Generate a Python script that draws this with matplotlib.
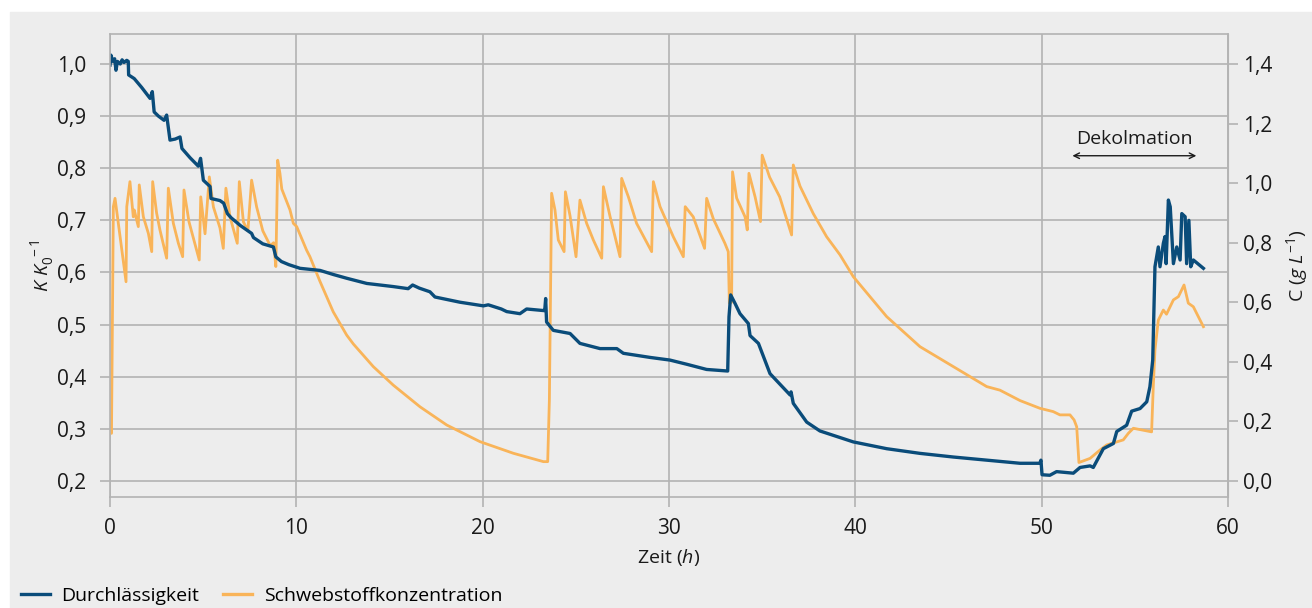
import numpy as np
import matplotlib.pyplot as plt
from matplotlib.patches import Rectangle
from matplotlib.ticker import FuncFormatter
from matplotlib.lines import Line2D

# Durchlässigkeit K/K0 (linke Achse)
t_k = [0.0, 0.05, 0.15, 0.25, 0.32, 0.4, 0.55, 0.65, 0.75, 0.9, 0.98, 1.0, 1.3, 1.7,
       2.15, 2.27, 2.37, 2.6, 2.9, 3.04, 3.22, 3.5, 3.76, 3.86, 4.3, 4.74, 4.86, 5.01,
       5.37, 5.42, 5.9, 6.1, 6.3, 6.5, 7.0, 7.6, 7.7, 8.2, 8.77, 8.9, 9.2, 9.6, 10.2,
       11.27, 12.0, 12.7, 13.78, 15.2, 16.0, 16.24, 16.6, 17.17, 17.44, 18.78, 20.04,
       20.3, 21.0, 21.29, 22.0, 22.36, 23.26, 23.33, 23.38, 23.43, 23.79, 24.69, 25.22,
       26.3, 27.2, 27.55, 29.0, 30.05, 30.95, 32.02, 33.15, 33.22, 33.31, 33.54, 33.81,
       34.26, 34.35, 34.8, 35.42, 36.5, 36.55, 36.67, 37.39, 38.1, 39.89, 41.68, 43.47,
       45.26, 47.05, 48.84, 49.9, 49.96, 50.02, 50.44, 50.8, 51.7, 52.06, 52.6, 52.77,
       53.31, 53.85, 54.03, 54.56, 54.83, 55.28, 55.64, 55.81, 55.96, 56.03, 56.08,
       56.26, 56.35, 56.53, 56.62, 56.68, 56.8, 56.9, 57.07, 57.25, 57.43, 57.52, 57.7,
       57.78, 57.9, 58.0, 58.14, 58.68]
k = [0.998, 1.017, 1.005, 1.01, 0.988, 1.005, 1.0, 1.008, 1.003, 1.007, 1.005, 0.979,
     0.972, 0.955, 0.934, 0.947, 0.908, 0.9, 0.892, 0.902, 0.854, 0.856, 0.86, 0.838,
     0.82, 0.804, 0.819, 0.777, 0.765, 0.742, 0.738, 0.733, 0.713, 0.705, 0.69, 0.675,
     0.667, 0.655, 0.649, 0.630, 0.621, 0.615, 0.608, 0.604, 0.596, 0.589, 0.579, 0.573,
     0.569, 0.576, 0.570, 0.563, 0.553, 0.543, 0.536, 0.538, 0.530, 0.525, 0.521, 0.530,
     0.527, 0.527, 0.550, 0.505, 0.489, 0.483, 0.464, 0.454, 0.454, 0.445, 0.437, 0.432,
     0.424, 0.414, 0.411, 0.515, 0.557, 0.541, 0.521, 0.502, 0.479, 0.464, 0.406, 0.365,
     0.371, 0.349, 0.313, 0.296, 0.275, 0.262, 0.253, 0.246, 0.240, 0.234, 0.234, 0.240,
     0.212, 0.211, 0.218, 0.215, 0.226, 0.229, 0.226, 0.262, 0.272, 0.295, 0.307, 0.334,
     0.339, 0.352, 0.381, 0.432, 0.534, 0.611, 0.649, 0.611, 0.656, 0.669, 0.617, 0.739,
     0.726, 0.617, 0.649, 0.624, 0.713, 0.707, 0.617, 0.700, 0.611, 0.624, 0.608]

# Schwebstoffkonzentration C in g/L (rechte Achse)
t_c = [0.0, 0.08, 0.18, 0.27, 0.54, 0.86, 0.9, 1.07, 1.25, 1.3, 1.52, 1.57, 1.79, 2.06,
       2.24, 2.29, 2.5, 2.68, 3.04, 3.13, 3.4, 3.67, 3.9, 3.97, 4.24, 4.5, 4.79, 4.87,
       5.1, 5.33, 5.55, 5.9, 6.08, 6.22, 6.44, 6.83, 6.94, 7.16, 7.4, 7.6, 7.87, 8.2,
       8.6, 8.78, 8.9, 9.0, 9.12, 9.22, 9.66, 9.84, 10.02, 10.55, 10.73, 11.27, 11.98,
       12.7, 13.06, 14.13, 15.2, 16.64, 18.07, 19.86, 21.65, 23.26, 23.49, 23.58, 23.7,
       23.88, 24.06, 24.37, 24.44, 24.69, 25.01, 25.22, 25.58, 25.94, 26.39, 26.48,
       26.84, 27.37, 27.46, 27.82, 28.26, 29.07, 29.16, 29.52, 30.23, 30.77, 30.87,
       31.3, 31.91, 32.02, 32.38, 33.0, 33.18, 33.24, 33.36, 33.41, 33.63, 34.08, 34.2,
       34.29, 34.62, 34.91, 35.0, 35.4, 35.94, 36.58, 36.67, 37.03, 37.74, 38.46, 39.18,
       39.89, 41.68, 43.47, 45.26, 47.05, 47.76, 48.84, 49.91, 50.62, 50.98, 51.52,
       51.74, 51.88, 52.0, 52.6, 53.13, 53.49, 54.38, 54.65, 54.92, 55.9, 55.99, 56.08,
       56.26, 56.53, 56.7, 57.07, 57.34, 57.64, 57.87, 58.14, 58.68]
c = [0.18, 0.16, 0.921, 0.949, 0.82, 0.669, 0.921, 1.005, 0.887, 0.91, 0.854, 0.994,
     0.887, 0.831, 0.77, 1.005, 0.9, 0.843, 0.748, 0.983, 0.865, 0.798, 0.753, 0.977,
     0.87, 0.81, 0.742, 0.954, 0.83, 1.021, 0.92, 0.85, 0.781, 0.983, 0.887, 0.798,
     1.005, 0.87, 0.84, 1.01, 0.92, 0.84, 0.79, 0.80, 0.72, 1.077, 1.033, 0.98, 0.91,
     0.865, 0.854, 0.775, 0.753, 0.67, 0.568, 0.49, 0.46, 0.384, 0.322, 0.249, 0.188,
     0.132, 0.093, 0.065, 0.065, 0.272, 0.966, 0.91, 0.809, 0.77, 0.971, 0.89, 0.753,
     0.943, 0.865, 0.809, 0.748, 0.988, 0.887, 0.753, 1.016, 0.954, 0.865, 0.77, 1.005,
     0.921, 0.82, 0.753, 0.921, 0.887, 0.781, 0.949, 0.88, 0.798, 0.77, 0.597, 0.60,
     1.038, 0.95, 0.887, 0.843, 1.033, 0.954, 0.871, 1.094, 1.02, 0.954, 0.826, 1.061,
     0.99, 0.898, 0.82, 0.759, 0.686, 0.552, 0.451, 0.384, 0.317, 0.305, 0.27, 0.244,
     0.233, 0.222, 0.222, 0.205, 0.182, 0.062, 0.076, 0.104, 0.121, 0.138, 0.16, 0.177,
     0.165, 0.317, 0.44, 0.54, 0.574, 0.56, 0.608, 0.619, 0.658, 0.597, 0.585, 0.518]

blue = '#0a4c7a'
orange = '#f9b459'
grid_col = '#b3b3b3'
bg = '#ededed'
txt = '#1a1a1a'


def k_to_c(y):
    return (y - 0.2) * 1.75


def c_to_k(y):
    return y / 1.75 + 0.2


plt.rcParams['font.family'] = ['Open Sans', 'DejaVu Sans']
plt.rcParams['mathtext.fontset'] = 'custom'
plt.rcParams['mathtext.rm'] = 'Open Sans'
plt.rcParams['mathtext.it'] = 'Open Sans:italic'

fig = plt.figure(figsize=(13.12, 6.08), dpi=100)
fig.patches.append(Rectangle((10 / 1312, 0), 1, 1 - 12 / 608, transform=fig.transFigure,
                             color=bg, zorder=-5))
ax = fig.add_axes([110 / 1312, 1 - 497 / 608, 1118 / 1312, 463 / 608])
ax.set_facecolor(bg)

ax.plot(t_c, c_to_k(np.array(c)), color=orange, lw=2.0)
ax.plot(t_k, k, color=blue, lw=2.4)

ax.set_xlim(0, 60)
ax.set_ylim(c_to_k(-0.0537), c_to_k(1.5007))
ax.set_xticks(range(0, 61, 10))
ax.set_yticks([0.2, 0.3, 0.4, 0.5, 0.6, 0.7, 0.8, 0.9, 1.0])
comma = FuncFormatter(lambda v, p: f'{v:.1f}'.replace('.', ','))
ax.yaxis.set_major_formatter(comma)
ax.grid(True, color=grid_col, lw=1.2)
for s in ax.spines.values():
    s.set_color(grid_col)
    s.set_linewidth(1.2)
ax.tick_params(colors=grid_col, labelcolor=txt, labelsize=15, length=7, width=1.2)
ax.tick_params(axis='y', pad=10)
ax.tick_params(axis='x', pad=8)

sec = ax.secondary_yaxis('right', functions=(k_to_c, c_to_k))
sec.set_yticks([0.0, 0.2, 0.4, 0.6, 0.8, 1.0, 1.2, 1.4])
sec.yaxis.set_major_formatter(comma)
sec.spines['right'].set_color(grid_col)
sec.tick_params(colors=grid_col, labelcolor=txt, labelsize=15, length=7, width=1.2, pad=4)
sec.set_ylabel(r'C $(g\ L^{-1})$', fontsize=14, labelpad=8, color=txt)

ax.set_ylabel(r'$K\ K_0^{\ -1}$', fontsize=14, labelpad=1, color=txt)
ax.set_xlabel(r'Zeit $(h)$', fontsize=14, labelpad=6, color=txt)

ax.annotate('', xy=(51.5, 0.824), xytext=(58.45, 0.824),
            arrowprops=dict(arrowstyle='<->', color=txt, lw=1.0))
ax.text(55.0, 0.857, 'Dekolmation', ha='center', va='center', fontsize=14, color=txt)

handles = [Line2D([], [], color=blue, lw=2.4), Line2D([], [], color=orange, lw=2.4)]
fig.legend(handles, ['Durchlässigkeit', 'Schwebstoffkonzentration'], loc='lower left',
           bbox_to_anchor=(0.0025, -0.024), ncol=2, frameon=False, fontsize=14,
           handlelength=1.5, handletextpad=0.6, columnspacing=1.2)

fig.savefig('out.png', dpi=100)
